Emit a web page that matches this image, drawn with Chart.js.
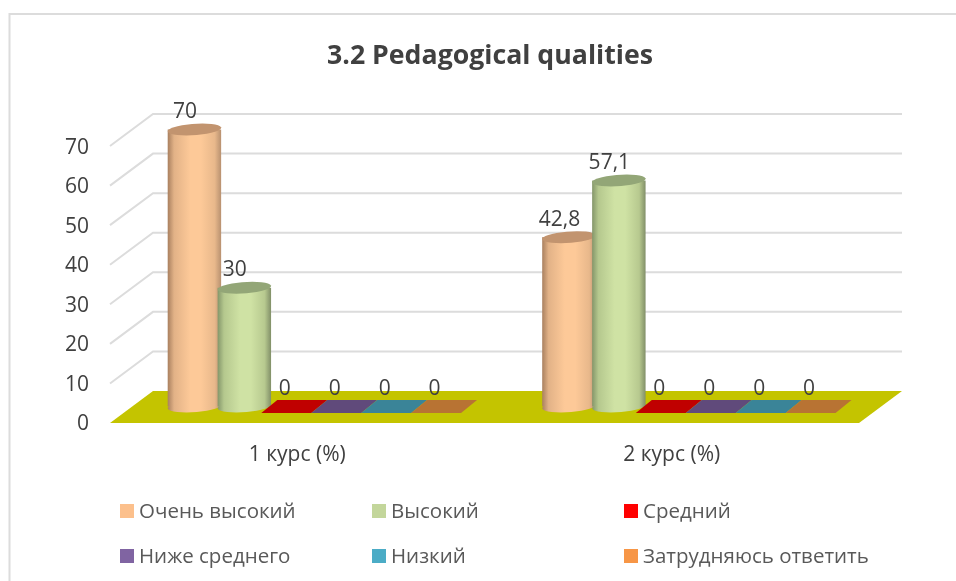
<!DOCTYPE html>
<html><head><meta charset="utf-8">
<style>html,body{margin:0;padding:0;background:#fff}canvas{display:block}</style>
<script src="https://cdn.jsdelivr.net/npm/chart.js@4"></script>
</head><body>
<div style="width:956px;height:581px"><canvas id="c" width="956" height="581"></canvas></div>
<script>
const categories = ['1 курс (%)', '2 курс (%)'];
const seriesNames = ['Очень высокий', 'Высокий', 'Средний', 'Ниже среднего', 'Низкий', 'Затрудняюсь ответить'];
const veryHigh = [70, 42.8];
const high = [30, 57.1];
const medium = [0, 0];
const belowMedium = [0, 0];
const low = [0, 0];
const hardToSay = [0, 0];
const seriesValues = [veryHigh, high, medium, belowMedium, low, hardToSay];
const legendColors = ['#FCC08C', '#C3D69B', '#FF0000', '#8064A2', '#4BACC6', '#F79646'];
const flatColors = ['#C2946F', '#93A677', '#C00000', '#604A7B', '#3A8498', '#B87333'];
const gradientStops = [
  ['#A9805F', '#E2B287', '#FDC998', '#FDC998', '#E8B88B', '#B89170'],
  ['#84966A', '#B5C88E', '#CFE2A4', '#CFE2A4', '#B7C98F', '#818F68']
];
const FONT = '"Open Sans", sans-serif';
const depthX = 43, depthY = 32;

const scene = {
  id: 'scene',
  afterLayout(chart) {
    chart.titleBlock.left = 24;
    chart.titleBlock.right = 956;
  },
  beforeDatasetsDraw(chart) {
    const ctx = chart.ctx, area = chart.chartArea, ys = chart.scales.y;
    ctx.save();
    // frame
    ctx.strokeStyle = '#DCDCDC'; ctx.lineWidth = 2;
    ctx.beginPath(); ctx.moveTo(9.5, 581); ctx.lineTo(9.5, 14); ctx.lineTo(956, 14); ctx.stroke();
    // slanted gridlines from the value scale
    ctx.strokeStyle = '#DCDCDC'; ctx.lineWidth = 2;
    ys.ticks.forEach(t => {
      if (t.value === 0) return;
      const y = ys.getPixelForValue(t.value);
      ctx.beginPath();
      ctx.moveTo(area.left, y);
      ctx.lineTo(area.left + depthX, y - depthY);
      ctx.lineTo(area.right + depthX, y - depthY);
      ctx.stroke();
    });
    // floor
    const y0 = ys.getPixelForValue(0);
    ctx.fillStyle = '#C4C400';
    ctx.beginPath();
    ctx.moveTo(area.left, y0);
    ctx.lineTo(area.left + depthX, y0 - depthY);
    ctx.lineTo(area.right + depthX, y0 - depthY);
    ctx.lineTo(area.right, y0);
    ctx.closePath(); ctx.fill();
    // marks, read from the bar elements
    const dx = 22, dy = depthY / 2 + 0.5;
    const labels = [];
    chart.data.datasets.forEach((ds, di) => {
      chart.getDatasetMeta(di).data.forEach((el, i) => {
        const v = ds.data[i];
        const cx = el.x + dx, top = el.y - dy, base = el.base - dy, r = el.width / 2;
        const sx = 8, sy = 6.5;
        if (v === 0) {
          ctx.fillStyle = flatColors[di];
          ctx.beginPath();
          ctx.moveTo(cx - r - sx, top + sy);
          ctx.lineTo(cx + r - sx, top + sy);
          ctx.lineTo(cx + r + sx, top - sy);
          ctx.lineTo(cx - r + sx, top - sy);
          ctx.closePath(); ctx.fill();
        } else {
          const ey = 6;
          const ext = Math.sqrt(r * r + sx * sx) + 0.5;
          const g = ctx.createLinearGradient(cx - ext, 0, cx + ext, 0);
          const st = gradientStops[di];
          [0, 0.12, 0.42, 0.62, 0.88, 1].forEach((p, k) => g.addColorStop(p, st[k]));
          const ell = (yc) => {
            ctx.save();
            ctx.transform(r + 0.5, 0, sx, -ey, cx, yc);
            ctx.moveTo(1, 0);
            ctx.arc(0, 0, 1, 0, Math.PI * 2);
            ctx.restore();
          };
          ctx.fillStyle = g;
          ctx.beginPath(); ell(base); ctx.fill();
          ctx.fillRect(cx - ext, top, ext * 2, base - top);
          ctx.fillStyle = flatColors[di];
          ctx.beginPath(); ell(top); ctx.fill();
        }
        labels.push([String(v).replace('.', ','), cx - 9.5, top - 17.5]);
      });
    });
    ctx.fillStyle = '#404040';
    ctx.font = '21px ' + FONT;
    ctx.textAlign = 'center'; ctx.textBaseline = 'middle';
    labels.forEach(l => ctx.fillText(l[0], l[1], l[2]));
    ctx.restore();
    return false;
  },
  afterDraw(chart) {
    const ctx = chart.ctx;
    const cols = [120, 372, 624], rows = [504, 549];
    ctx.save();
    ctx.font = '20.5px ' + FONT;
    ctx.textAlign = 'left'; ctx.textBaseline = 'middle';
    chart.data.datasets.forEach((ds, i) => {
      const x = cols[i % 3], y = rows[Math.floor(i / 3)];
      ctx.fillStyle = legendColors[i];
      ctx.fillRect(x, y, 14, 14);
      ctx.fillStyle = '#595959';
      ctx.fillText(ds.label, x + 19, y + 8);
    });
    ctx.restore();
  }
};

new Chart(document.getElementById('c'), {
  type: 'bar',
  data: {
    labels: categories,
    datasets: seriesNames.map((n, i) => ({ label: n, data: seriesValues[i], backgroundColor: legendColors[i] }))
  },
  plugins: [scene],
  options: {
    responsive: false,
    animation: false,
    barPercentage: 1,
    categoryPercentage: 0.8,
    layout: { padding: { left: 0, right: 97, top: 0, bottom: 0 } },
    plugins: {
      legend: { display: false },
      tooltip: { enabled: false },
      title: {
        display: true,
        text: '3.2 Pedagogical qualities',
        color: '#404040',
        font: { family: FONT, size: 26.7, weight: 'bold' },
        padding: { top: 40, bottom: 74 }
      }
    },
    scales: {
      x: {
        grid: { display: false },
        border: { display: false },
        ticks: { color: '#404040', font: { family: FONT, size: 21 }, padding: 11, maxRotation: 0 },
        afterFit: s => { s.height = 158; }
      },
      y: {
        min: 0, max: 70,
        grid: { display: false },
        border: { display: false },
        ticks: { stepSize: 10, color: '#404040', font: { family: FONT, size: 21 }, padding: 13, labelOffset: 1.5 },
        afterFit: s => { s.width = 110; }
      }
    }
  }
});
</script>
</body></html>
